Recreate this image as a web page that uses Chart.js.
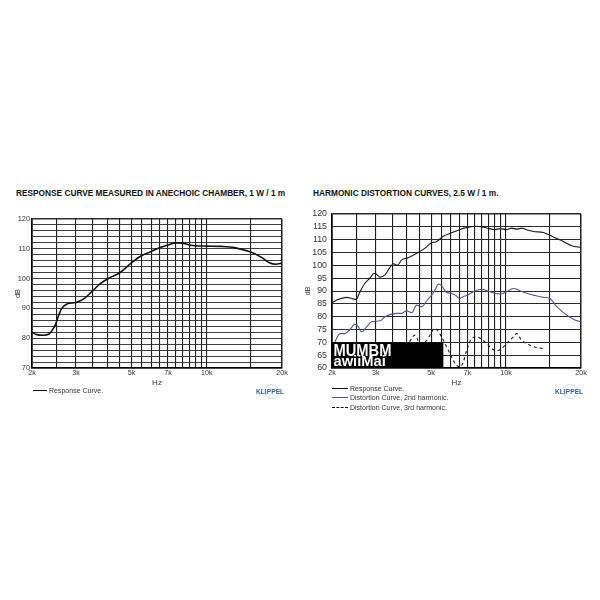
<!DOCTYPE html>
<html>
<head>
<meta charset="utf-8">
<script src="https://cdn.jsdelivr.net/npm/chart.js@4.4.0/dist/chart.umd.min.js"></script>
<style>
  html, body { margin:0; padding:0; background:#fff; }
  body { width:600px; height:600px; position:relative; overflow:hidden; font-family:"Liberation Sans", Arial, sans-serif; color:#222; }
  .title { position:absolute; font-weight:bold; font-size:8.3px; line-height:8.3px; white-space:nowrap; color:#111; }
  .wrap { position:absolute; }
  .leg { position:absolute; font-size:7px; line-height:7px; white-space:nowrap; color:#333; }
  .legline { position:absolute; height:0; }
  .klippel { position:absolute; font-weight:bold; font-size:6.5px; line-height:6.5px; color:#2f5f9e; letter-spacing:0.1px; }
  .kcirc { position:absolute; width:13px; height:13px; border:1px solid #c9dced; border-radius:50%; }
</style>
</head>
<body>
<div class="title" style="left:16px;top:189px;">RESPONSE CURVE MEASURED IN ANECHOIC CHAMBER, 1 W / 1 m</div>
<div class="title" style="left:313px;top:189px;">HARMONIC DISTORTION CURVES, 2.5 W / 1 m.</div>

<div class="wrap" style="left:0;top:200px;width:300px;height:190px;"><canvas id="c1"></canvas></div>
<div class="wrap" style="left:300px;top:200px;width:300px;height:190px;"><canvas id="c2"></canvas></div>

<!-- legends -->
<div class="legline" style="left:33px;top:389.5px;width:14px;border-top:1.3px solid #111;"></div>
<div class="leg" style="left:49px;top:386.5px;">Response Curve.</div>

<div class="legline" style="left:332px;top:387.5px;width:16px;border-top:1.2px solid #111;"></div>
<div class="leg" style="left:350px;top:384.5px;">Response Curve.</div>
<div class="legline" style="left:332px;top:397px;width:16px;border-top:1.2px solid #55558f;"></div>
<div class="leg" style="left:350px;top:394px;">Distortion Curve, 2nd harmonic.</div>
<div class="legline" style="left:332px;top:406.5px;width:16px;border-top:1.2px dashed #111;"></div>
<div class="leg" style="left:350px;top:403.5px;">Distortion Curve, 3rd harmonic.</div>

<div class="kcirc" style="left:264px;top:384px;"></div>
<div class="klippel" style="left:256px;top:389px;">KLIPPEL</div>
<div class="kcirc" style="left:563px;top:384px;"></div>
<div class="klippel" style="left:555px;top:389px;">KLIPPEL</div>

<script>
// ---------- data ----------
const xGridTicks = [2000,2500,3000,3500,4000,4500,5000,5500,6000,6500,7000,7500,8000,8500,9000,9500,10000,15000,20000];
const xLabelTicks = [2000,3000,5000,7000,10000,20000];
const xLabelTexts = ['2k','3k','5k','7k','10k','20k'];

// Left chart: response 1 W / 1 m
const leftFreq = [2000,2090,2220,2330,2400,2475,2550,2630,2760,3000,3220,3470,3750,4120,4440,5000,5430,6000,6500,7000,7500,8000,8500,9000,10000,11400,12900,15000,16500,17800,18900,20000];
const leftResp = [82,81.2,81,81.3,82.5,84.3,87.4,90,91.5,92,93.2,95.6,98.3,100.4,101.7,105.3,107.5,109.1,110.4,111.3,112,111.9,111.3,111,110.9,110.8,110.4,108.9,107.2,105.3,104.8,105.2];
const leftYTicks = [70,80,90,100,110,120];
const leftYGridStep = 2;

// Right chart: response 2.5 W / 1 m
const rightFreq = [2000,2090,2290,2400,2500,2590,2710,2840,2950,3000,3120,3265,3400,3530,3660,3810,4050,4380,4730,5000,5265,5600,6000,6500,7000,7620,8000,8500,9000,9510,10000,10540,11030,11550,12100,12870,14120,15490,16990,18350,20000];
const rightResp = [85.4,86.5,87.5,87.1,86.7,89.7,93,95,96.9,96.7,95.4,96.3,98.9,100.6,100,102.1,103,104.7,106.7,108.7,109.3,111.3,112.6,113.9,114.8,115.2,115,114.4,113.9,114.3,113.9,114.5,114.1,114.5,113.9,113.2,112.8,111,109.3,107.6,107];

// 2nd harmonic
const h2Freq = [2020,2154,2255,2362,2474,2552,2632,2757,2886,3118,3265,3472,3638,3810,3990,4178,4376,4584,4800,5028,5185,5347,5514,5774,6000,6259,6500,6737,7000,7390,8000,8500,9000,9500,10000,10700,11380,12100,12870,14120,15000,15980,17520,18920,20000];
const h2Val  = [68.5,73.4,73.4,75,77.1,76,74.1,76,78,78.4,80,81,81.3,81.3,82.3,81.5,84.5,83.9,86.2,88.4,90.4,92.7,92,89.4,89.1,88.4,87.1,87.8,88.4,89.7,90.7,89.9,89.1,88.8,89.6,91,90.1,89.1,88.4,87.5,87.1,83.9,80.6,78.7,78];

// 3rd harmonic
const h3Freq = [3216,3527,3751,3990,4309,4514,4800,5185,5430,5774,6047,6331,6534,6737,6950,7278,7622,8000,8359,8755,9168,9600,10030,10700,11030,11550,12480,13270,14120];
const h3Val  = [66.9,69.8,69.9,69.3,72.8,69.5,70.8,75.4,73.2,68.2,64.3,61,60.4,62.4,66.9,71.5,72.1,71.1,69.5,67.6,66.7,67.6,69.5,72.1,73.4,70.8,68.9,68,67.6];
const rightYTicks = [60,65,70,75,80,85,90,95,100,105,110,115,120];

// overlay box (in data units) and its texts
const boxFreq = [2000, 5600];
const boxDb = [60, 70];
const boxTexts = ['MUMBM', 'awiiMai'];

// ---------- helpers ----------
const FONT = '"Liberation Sans", Arial, sans-serif';
const pts = (xs, ys) => xs.map((x, i) => ({x, y: ys[i]}));

function xScale(fontSize) {
  return {
    type: 'logarithmic', min: 2000, max: 20000,
    afterBuildTicks: s => { s.ticks = xGridTicks.map(v => ({value: v})); },
    afterFit: s => { s.height = 20; },
    ticks: {
      autoSkip: false, maxRotation: 0, minRotation: 0, padding: 1,
      color: '#333', font: {family: FONT, size: fontSize},
      callback: v => { const i = xLabelTicks.indexOf(v); return i >= 0 ? xLabelTexts[i] : ''; }
    },
    grid: {
      color: '#1e1e1e', drawTicks: false,
      lineWidth: c => (c.index === 0 || c.index === xGridTicks.length - 1) ? 1.5 : 1.1
    },
    border: {display: true, color: '#000', width: 1.5},
    title: {display: true, text: 'Hz', color: '#333', font: {family: FONT, size: 8}, padding: {top: 0, bottom: 0}}
  };
}

const overlayPlugin = {
  id: 'overlayBox',
  afterDatasetsDraw(chart) {
    const {ctx, scales: {x, y}} = chart;
    const x0 = x.getPixelForValue(boxFreq[0]), x1 = x.getPixelForValue(boxFreq[1]);
    const yTop = y.getPixelForValue(boxDb[1]), yBot = y.getPixelForValue(boxDb[0]);
    ctx.save();
    ctx.fillStyle = '#000';
    ctx.fillRect(x0, yTop, x1 - x0, yBot - yTop);
    ctx.fillStyle = '#fff';
    ctx.textBaseline = 'alphabetic';
    ctx.textAlign = 'left';
    ctx.font = 'bold 15px ' + FONT;
    ctx.save();
    ctx.translate(x0 + 1.5, yTop + 13.6);
    ctx.scale(0.98, 1.1);
    ctx.fillText(boxTexts[0], 0, 0);
    ctx.restore();
    ctx.save();
    ctx.translate(x0 + 1.5, yTop + 23.6);
    ctx.scale(0.98, 1.0);
    ctx.fillText(boxTexts[1], 0, 0);
    ctx.restore();
    ctx.restore();
  }
};

// ---------- left chart ----------
new Chart(document.getElementById('c1'), {
  type: 'line',
  data: {
    datasets: [{
      label: 'Response Curve.',
      data: pts(leftFreq, leftResp),
      borderColor: '#111', borderWidth: 1.6, pointRadius: 0,
      cubicInterpolationMode: 'monotone', fill: false
    }]
  },
  options: {
    responsive: true, maintainAspectRatio: false, animation: false,
    layout: {padding: {left: 0, right: 18, top: 19, bottom: 2}},
    plugins: {legend: {display: false}, tooltip: {enabled: false}},
    scales: {
      x: xScale(7.2),
      y: {
        type: 'linear', min: 70, max: 120,
        afterBuildTicks: s => { const t = []; for (let v = 70; v <= 120; v += leftYGridStep) t.push({value: v}); s.ticks = t; },
        afterFit: s => { s.width = 32; },
        ticks: {
          autoSkip: false, padding: 2, color: '#333', font: {family: FONT, size: 7.4},
          callback: v => leftYTicks.includes(v) ? String(v) : ''
        },
        grid: {
          color: '#2a2a2a', drawTicks: false,
          lineWidth: c => (c.tick && (c.tick.value === 120 || c.tick.value === 70)) ? 1.5 : 0.9
        },
        border: {display: true, color: '#000', width: 1.5},
        title: {display: true, text: 'dB', color: '#333', font: {family: FONT, size: 7.5}, padding: {top: 13, bottom: 0}}
      }
    }
  }
});

// ---------- right chart ----------
new Chart(document.getElementById('c2'), {
  type: 'line',
  data: {
    datasets: [
      {label: 'Response Curve.', data: pts(rightFreq, rightResp), borderColor: '#1a1a1a', borderWidth: 1.1, pointRadius: 0, cubicInterpolationMode: 'monotone', fill: false},
      {label: 'Distortion Curve, 2nd harmonic.', data: pts(h2Freq, h2Val), borderColor: '#55558f', borderWidth: 1.1, pointRadius: 0, cubicInterpolationMode: 'monotone', fill: false},
      {label: 'Distortion Curve, 3rd harmonic.', data: pts(h3Freq, h3Val), borderColor: '#1a1a1a', borderWidth: 1.1, borderDash: [3, 3], pointRadius: 0, cubicInterpolationMode: 'monotone', fill: false}
    ]
  },
  options: {
    responsive: true, maintainAspectRatio: false, animation: false,
    layout: {padding: {left: 0, right: 19, top: 14, bottom: 2}},
    plugins: {legend: {display: false}, tooltip: {enabled: false}},
    scales: {
      x: xScale(7.2),
      y: {
        type: 'linear', min: 60, max: 120,
        afterBuildTicks: s => { s.ticks = rightYTicks.map(v => ({value: v})); },
        afterFit: s => { s.width = 32; },
        ticks: {autoSkip: false, padding: 5, color: '#333', font: {family: FONT, size: 8.8}},
        grid: {
          color: '#2a2a2a', drawTicks: false,
          lineWidth: c => (c.tick && (c.tick.value === 120 || c.tick.value === 60)) ? 1.5 : 1
        },
        border: {display: true, color: '#000', width: 1.5},
        title: {display: true, text: 'dB', color: '#333', font: {family: FONT, size: 7.5}, padding: {top: 3, bottom: 0}}
      }
    }
  },
  plugins: [overlayPlugin]
});
</script>
</body>
</html>
